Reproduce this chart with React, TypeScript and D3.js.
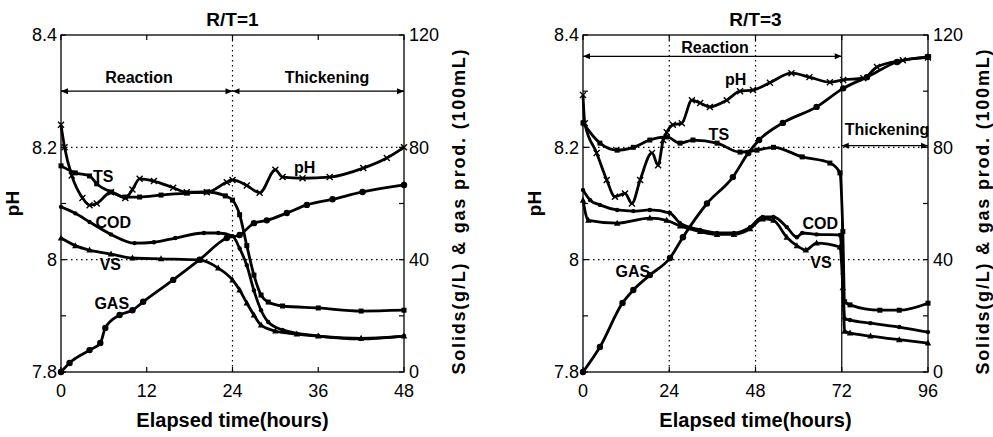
import React from 'react';
import * as d3 from 'd3';

// ---- R/T = 1 (48 h run) ----
const ph1T = [0, 0.5, 1.5, 3, 4, 5, 7, 9, 10, 11, 13, 15.7, 17.6, 20.4, 23.2, 24, 26, 27.8, 30, 31, 33.8, 37.6, 42.3, 45.6, 48];
const ph1V = [8.24, 8.2, 8.15, 8.11, 8.097, 8.1, 8.12, 8.11, 8.125, 8.144, 8.14, 8.128, 8.12, 8.12, 8.138, 8.142, 8.132, 8.119, 8.16, 8.147, 8.145, 8.147, 8.163, 8.181, 8.2];
const ts1T = [0, 2, 4, 5, 7, 9, 11, 14, 17.6, 20.4, 23, 24, 25, 26, 27, 28, 29, 31, 36, 42, 48];
const ts1V = [73.4, 70.9, 69.8, 67, 64.1, 62.3, 62.3, 63, 63.7, 64.1, 62.7, 61.2, 56, 45, 34.5, 27.4, 24.9, 23.5, 22.8, 21.7, 22];
const cod1T = [0, 2, 4, 7, 10.3, 13, 16, 20, 22, 24, 25, 26, 27, 28, 29, 31, 36, 42, 48];
const cod1V = [58.8, 56.5, 53.4, 49, 45.9, 46.2, 47.7, 49.5, 49.5, 48.4, 44, 38, 29, 22, 17.8, 15, 12.8, 11.8, 12.8];
const vs1T = [0, 2, 4, 7, 10, 14, 19.4, 22, 24, 25, 26, 27, 28, 30, 33, 36, 42, 48];
const vs1V = [47.7, 45, 43.4, 42, 40.6, 40.3, 39.9, 37, 32.8, 29.2, 24.6, 20.3, 16.7, 14.6, 13.5, 12.8, 12, 12.8];
const gas1T = [0, 1.2, 4, 5.5, 6.2, 8.2, 10, 11.5, 15.7, 19.4, 23.2, 25, 27, 28.8, 31.6, 34.4, 38, 42.2, 48];
const gas1V = [0, 3.2, 7.8, 10.3, 15.7, 20.3, 22, 25, 32.8, 40, 47.7, 48.8, 53, 54, 56.6, 59.5, 61.5, 64.1, 66.6];

// ---- R/T = 3 (96 h run) ----
const ph3T = [0, 0.5, 3.8, 6.6, 8.9, 11.7, 13.6, 15.9, 19.2, 20.9, 22.3, 23.3, 25, 27.5, 30.3, 32.6, 35.3, 40, 43.7, 47.3, 52, 58, 63, 68.7, 72.4, 78, 81.8, 89, 96];
const ph3V = [8.293, 8.243, 8.19, 8.142, 8.112, 8.118, 8.1, 8.142, 8.19, 8.168, 8.213, 8.227, 8.24, 8.243, 8.284, 8.279, 8.272, 8.284, 8.3, 8.302, 8.315, 8.332, 8.325, 8.316, 8.32, 8.323, 8.343, 8.355, 8.36];
const ts3T = [0, 4.7, 9.5, 14, 18.6, 23.3, 27, 30.6, 37.3, 43.7, 48.4, 53, 61, 68.7, 71.5, 72.3, 72.8, 74.3, 82.6, 88, 96];
const ts3V = [88.7, 81.5, 79, 80, 82.6, 83.7, 81.5, 82.6, 81.5, 78.3, 79, 80, 76.6, 74.4, 70.9, 50, 25, 23.9, 22, 22, 24.5];
const cod3T = [0, 2, 4.7, 9.5, 14, 18.6, 24.2, 27, 32.6, 37.3, 42, 46.5, 50, 53, 56.7, 59.5, 61, 65, 71.5, 72.3, 72.8, 74.3, 80, 88, 96];
const cod3V = [64.8, 61.2, 59.5, 57.7, 57.3, 57.7, 56.6, 53, 50.6, 49.5, 49.5, 51.6, 55.2, 55.2, 51.6, 48, 49.5, 49, 48.8, 35, 19, 18.5, 17.4, 16, 14.2];
const vs3T = [0, 1.5, 9.5, 18.6, 23.3, 27, 32.6, 37.3, 42, 46.5, 50, 53, 56.7, 59.5, 62, 65, 71.5, 72.3, 72.8, 74.3, 80, 88, 96];
const vs3V = [61.2, 54, 53, 54.8, 54, 52, 50, 49, 49, 51, 54.5, 54, 48, 45, 43.4, 45.9, 44.5, 30, 14.5, 13.9, 12.8, 11.5, 10.3];
const gas3T = [0, 4.7, 11, 14, 18.6, 24.2, 27.8, 34.5, 41.7, 46, 49, 55.6, 65, 72.4, 79, 87.4, 96];
const gas3V = [0, 8.9, 24.6, 29.2, 34.5, 40.6, 48, 60, 69.4, 78, 82.6, 88.7, 94.4, 101, 105, 110.4, 112.2];

const phTicks = [7.8, 7.9, 8.0, 8.1, 8.2, 8.3, 8.4];
const phLabels = [7.8, 8.0, 8.2, 8.4];
const solidTicks = [0, 20, 40, 60, 80, 100, 120];
const solidLabels = [0, 40, 80, 120];
const hours1 = [0, 12, 24, 36, 48];
const hours3 = [0, 24, 48, 72, 96];

type Pt = [number, number];
const zip = (t: number[], v: number[]): Pt[] => t.map((x, i) => [x, v[i]]);

type Marker = 'cross' | 'square' | 'circle' | 'triangle' | 'dot';
interface Series { pts: Pt[]; axis: 'ph' | 'solid'; marker: Marker; }
interface Label { text: string; t: number; v: number; axis: 'ph' | 'solid'; }
interface PanelProps {
  x0: number; x1: number; tMax: number; ticks: number[]; title: string;
  series: Series[]; labels: Label[];
  dottedT: number[]; solidT: number[];
  phases: { text: string; t0: number; t1: number; ph: number; lx: number; ly: number }[];
}

const TOP = 35;
const BOTTOM = 372;
const FONT = '"Liberation Sans", Arial, Helvetica, sans-serif';

const Panel: React.FC<PanelProps> = ({ x0, x1, tMax, ticks, title, series, labels, dottedT, solidT, phases }) => {
  const x = d3.scaleLinear().domain([0, tMax]).range([x0, x1]);
  const yPh = d3.scaleLinear().domain([7.8, 8.4]).range([BOTTOM, TOP]);
  const ySol = d3.scaleLinear().domain([0, 120]).range([BOTTOM, TOP]);
  const yOf = (axis: 'ph' | 'solid') => (axis === 'ph' ? yPh : ySol);
  const mid = (x0 + x1) / 2;

  const drawMarker = (m: Marker, cx: number, cy: number, k: string) => {
    if (m === 'cross') return <path key={k} d={`M${cx - 3},${cy - 3}L${cx + 3},${cy + 3}M${cx - 3},${cy + 3}L${cx + 3},${cy - 3}`} stroke="#000" strokeWidth={1.4} />;
    if (m === 'square') return <rect key={k} x={cx - 2.5} y={cy - 2.5} width={5} height={5} fill="#000" />;
    if (m === 'triangle') return <path key={k} d={`M${cx},${cy - 3.5}L${cx + 3.2},${cy + 2.5}L${cx - 3.2},${cy + 2.5}Z`} fill="#000" />;
    if (m === 'dot') return <circle key={k} cx={cx} cy={cy} r={3.2} fill="#000" />;
    return <circle key={k} cx={cx} cy={cy} r={2.2} fill="#000" />;
  };

  const arrowHead = (px: number, py: number, dir: number, k: string) => (
    <path key={k} d={`M${px},${py}L${px - dir * 7},${py - 3}L${px - dir * 7},${py + 3}Z`} fill="#000" />
  );

  return (
    <g fontFamily={FONT}>
      {/* grid */}
      {[8.0, 8.2].map(v => (
        <line key={'h' + v} x1={x0} x2={x1} y1={yPh(v)} y2={yPh(v)} stroke="#000" strokeWidth={1.2} strokeDasharray="1.5,3.5" />
      ))}
      {dottedT.map(t => (
        <line key={'v' + t} x1={x(t)} x2={x(t)} y1={TOP} y2={BOTTOM} stroke="#000" strokeWidth={1.2} strokeDasharray="1.5,3.5" />
      ))}
      {solidT.map(t => (
        <line key={'s' + t} x1={x(t)} x2={x(t)} y1={TOP} y2={BOTTOM} stroke="#000" strokeWidth={1.2} />
      ))}

      {/* frame */}
      <rect x={x0} y={TOP} width={x1 - x0} height={BOTTOM - TOP} fill="none" stroke="#000" strokeWidth={1.3} />

      {/* left axis ticks */}
      {phTicks.map(v => (
        <line key={'lt' + v} x1={x0} x2={x0 + 5} y1={yPh(v)} y2={yPh(v)} stroke="#000" strokeWidth={1.2} />
      ))}
      {phLabels.map(v => (
        <text key={'ll' + v} x={x0 - 4} y={yPh(v)} dy="0.36em" textAnchor="end" fontSize={18}>{d3.format('~g')(v)}</text>
      ))}
      {/* right axis ticks */}
      {solidTicks.map(v => (
        <line key={'rt' + v} x1={x1 - 5} x2={x1} y1={ySol(v)} y2={ySol(v)} stroke="#000" strokeWidth={1.2} />
      ))}
      {solidLabels.map(v => (
        <text key={'rl' + v} x={x1 + 5} y={ySol(v)} dy="0.36em" textAnchor="start" fontSize={18}>{v}</text>
      ))}
      {/* bottom ticks */}
      {ticks.map(t => (
        <g key={'bt' + t}>
          <line x1={x(t)} x2={x(t)} y1={BOTTOM} y2={BOTTOM - 5} stroke="#000" strokeWidth={1.2} />
          <line x1={x(t)} x2={x(t)} y1={TOP} y2={TOP + 5} stroke="#000" strokeWidth={1.2} />
          <text x={x(t)} y={BOTTOM + 25} textAnchor="middle" fontSize={18}>{t}</text>
        </g>
      ))}

      {/* phase arrows */}
      {phases.map((p, i) => (
        <g key={'ph' + i}>
          <line x1={x(p.t0)} x2={x(p.t1)} y1={yPh(p.ph)} y2={yPh(p.ph)} stroke="#000" strokeWidth={1.3} />
          {arrowHead(x(p.t0), yPh(p.ph), -1, 'a')}
          {arrowHead(x(p.t1), yPh(p.ph), 1, 'b')}
          <text x={p.lx} y={p.ly} textAnchor="middle" dy="0.36em" fontSize={16} fontWeight="bold">{p.text}</text>
        </g>
      ))}

      {/* series */}
      {series.map((s, i) => {
        const y = yOf(s.axis);
        const line = d3.line<Pt>().x(d => x(d[0])).y(d => y(d[1])).curve(d3.curveMonotoneX);
        return (
          <g key={'s' + i}>
            <path d={line(s.pts) || ''} fill="none" stroke="#000" strokeWidth={2.8} strokeLinejoin="round" />
            {s.pts.map((d, j) => drawMarker(s.marker, x(d[0]), y(d[1]), 'm' + j))}
          </g>
        );
      })}

      {/* series labels */}
      {labels.map((l, i) => (
        <text key={'lb' + i} x={x(l.t)} y={yOf(l.axis)(l.v)} dy="0.36em" textAnchor="middle" fontSize={16} fontWeight="bold">{l.text}</text>
      ))}

      {/* titles */}
      <text x={mid} y={26} textAnchor="middle" fontSize={19} fontWeight="bold">{title}</text>
      <text x={mid} y={427} textAnchor="middle" fontSize={20} fontWeight="bold">Elapsed time(hours)</text>
      <text transform={`translate(${x0 - 42},${(TOP + BOTTOM) / 2}) rotate(-90)`} textAnchor="middle" fontSize={19} fontWeight="bold">pH</text>
      <text transform={`translate(${x1 + 61},${212}) rotate(-90)`} textAnchor="middle" fontSize={18} fontWeight="bold" textLength={325} lengthAdjust="spacing">Solids(g/L) &amp; gas prod. (100mL)</text>
    </g>
  );
};

const App: React.FC = () => {
  const series1: Series[] = [
    { pts: zip(ph1T, ph1V), axis: 'ph', marker: 'cross' },
    { pts: zip(ts1T, ts1V), axis: 'solid', marker: 'square' },
    { pts: zip(cod1T, cod1V), axis: 'solid', marker: 'circle' },
    { pts: zip(vs1T, vs1V), axis: 'solid', marker: 'triangle' },
    { pts: zip(gas1T, gas1V), axis: 'solid', marker: 'dot' },
  ];
  const series3: Series[] = [
    { pts: zip(ph3T, ph3V), axis: 'ph', marker: 'cross' },
    { pts: zip(ts3T, ts3V), axis: 'solid', marker: 'square' },
    { pts: zip(cod3T, cod3V), axis: 'solid', marker: 'circle' },
    { pts: zip(vs3T, vs3V), axis: 'solid', marker: 'triangle' },
    { pts: zip(gas3T, gas3V), axis: 'solid', marker: 'dot' },
  ];
  const labels1: Label[] = [
    { text: 'TS', t: 5.9, v: 69.8, axis: 'solid' },
    { text: 'COD', t: 7.3, v: 53.4, axis: 'solid' },
    { text: 'VS', t: 6.9, v: 38.5, axis: 'solid' },
    { text: 'GAS', t: 7.1, v: 24.6, axis: 'solid' },
    { text: 'pH', t: 34.1, v: 8.165, axis: 'ph' },
  ];
  const labels3: Label[] = [
    { text: 'pH', t: 42.5, v: 8.322, axis: 'ph' },
    { text: 'TS', t: 37.8, v: 84.5, axis: 'solid' },
    { text: 'COD', t: 66, v: 53, axis: 'solid' },
    { text: 'VS', t: 66.2, v: 39.2, axis: 'solid' },
    { text: 'GAS', t: 13.9, v: 36, axis: 'solid' },
  ];
  return (
    <div style={{ position: 'absolute', left: 0, top: 0 }}>
      <svg width={993} height={437} style={{ display: 'block', background: '#fff' }}>
        <Panel x0={61} x1={404} tMax={48} ticks={hours1} title="R/T=1" series={series1} labels={labels1}
          dottedT={[24]} solidT={[]}
          phases={[
            { text: 'Reaction', t0: 0, t1: 24, ph: 8.3, lx: 139, ly: 77 },
            { text: 'Thickening', t0: 24, t1: 48, ph: 8.3, lx: 327, ly: 77 },
          ]} />
        <Panel x0={583} x1={928} tMax={96} ticks={hours3} title="R/T=3" series={series3} labels={labels3}
          dottedT={[24, 48]} solidT={[72]}
          phases={[
            { text: 'Reaction', t0: 0, t1: 72, ph: 8.362, lx: 715, ly: 47 },
            { text: 'Thickening', t0: 72, t1: 96, ph: 8.203, lx: 887, ly: 129 },
          ]} />
      </svg>
    </div>
  );
};

export default App;
